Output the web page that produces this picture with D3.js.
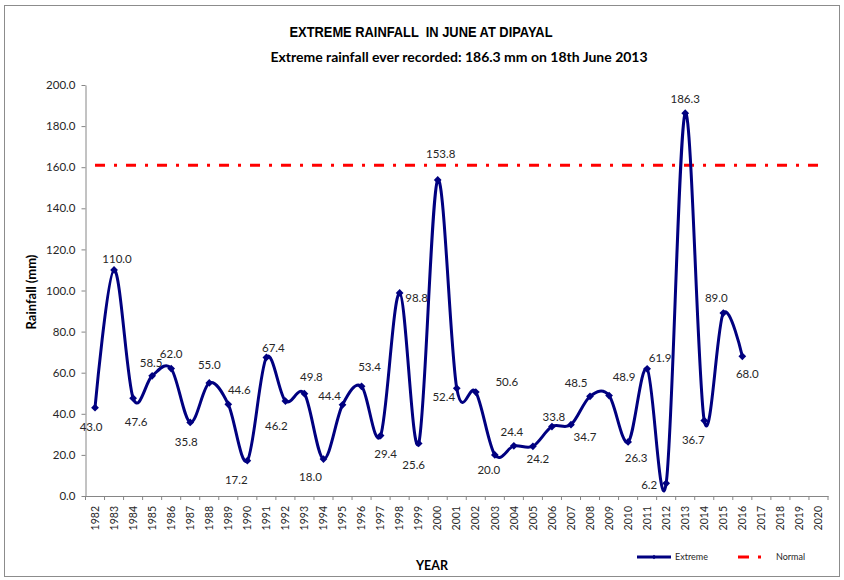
<!DOCTYPE html>
<html>
<head>
<meta charset="utf-8">
<script src="https://cdn.jsdelivr.net/npm/d3@7"></script>
<style>
  body { margin: 0; background: #fff; }
  text { font-family: Lato, "Open Sans", sans-serif; fill: #262626; }
</style>
</head>
<body>
<div id="chart"></div>
<script>
// Data
const years = d3.range(1982, 2021).map(String)
const extremeYears = d3.range(1982, 2017).map(String)
const extremeValues = [
  43.0, 110.0, 47.6, 58.5, 62.0, 35.8, 55.0, 44.6, 17.2, 67.4,
  46.2, 49.8, 18.0, 44.4, 53.4, 29.4, 98.8, 25.6, 153.8, 52.4,
  50.6, 20.0, 24.4, 24.2, 33.8, 34.7, 48.5, 48.9, 26.3, 61.9,
  6.2, 186.3, 36.7, 89.0, 68.0
]
const normalValue = 161
const yTicks = [0, 20, 40, 60, 80, 100, 120, 140, 160, 180, 200]

// label offsets (px) from each point
const labelDx = [-4, 3, 3, -1, 0, -4, 0, 11, -11, 7, -9, 7, -13, -13, 8, 5, 17, -5, 3, -13,
  31, -6, -2, 5, 2, 14, -14, 15, 8, 13, -17, 0, -11, -7, 5]
const labelDy = [19, -11, 24, -13, -15, 20, -18, -14, 19, -10, 25, -17, 18, -9, -19, 18, 5, 22, -26, 9,
  -10, 15, -14, 13, -10, 12, -13, -19, 16, -11, 2, -14, 19, -15, 18]

const extremeData = extremeYears.map((y, i) => ({ year: y, value: extremeValues[i], i }))
const normalData = years.map(y => ({ year: y, value: normalValue }))

// Dimensions
const dimensions = { width: 844, height: 580 }

const svg = d3.select('#chart')
  .append('svg')
  .attr('width', dimensions.width)
  .attr('height', dimensions.height)

// outer frame
svg.append('rect')
  .attr('x', 4.5).attr('y', 5.5)
  .attr('width', 835).attr('height', 571)
  .attr('fill', 'none')
  .attr('stroke', '#8c8c8c')
  .attr('stroke-width', 1)

// Scales
const xScale = d3.scaleBand()
  .domain(years)
  .range([85.5, 828])
const xCenter = d => xScale(d.year) + xScale.bandwidth() / 2

const yScale = d3.scaleLinear()
  .domain([0, 200])
  .range([496, 85])

// Titles
svg.append('text')
  .attr('x', 421).attr('y', 37)
  .attr('text-anchor', 'middle')
  .attr('textLength', 263)
  .attr('lengthAdjust', 'spacingAndGlyphs')
  .style('font-family', '"Liberation Sans", Arial, sans-serif')
  .style('font-weight', 'bold')
  .style('font-size', '15px')
  .style('white-space', 'pre')
  .style('fill', '#000')
  .text('EXTREME RAINFALL  IN JUNE AT DIPAYAL')

svg.append('text')
  .attr('x', 459).attr('y', 62)
  .attr('text-anchor', 'middle')
  .style('font-weight', 'bold')
  .style('font-size', '14px')
  .style('fill', '#000')
  .text('Extreme rainfall ever recorded: 186.3 mm on 18th June 2013')

// Y axis
const yAxis = d3.axisLeft(yScale)
  .tickValues(yTicks)
  .tickFormat(d3.format('.1f'))
  .tickSize(4)
  .tickSizeOuter(0)
  .tickPadding(6)

const yAxisGroup = svg.append('g')
  .attr('transform', 'translate(85.5,0)')
  .call(yAxis)
yAxisGroup.select('.domain').attr('stroke', '#868686')
yAxisGroup.selectAll('.tick line').attr('stroke', '#868686')
yAxisGroup.selectAll('.tick text')
  .style('font-size', '11.5px')
  .style('font-family', 'Lato, sans-serif')
  .attr('fill', '#262626')

svg.append('text')
  .attr('transform', 'translate(36,292) rotate(-90)')
  .attr('text-anchor', 'middle')
  .style('font-weight', 'bold')
  .style('font-size', '13px')
  .style('fill', '#000')
  .text('Rainfall (mm)')

// X axis
const xAxis = d3.axisBottom(xScale)
  .tickSize(0)
  .tickSizeOuter(0)

const xAxisGroup = svg.append('g')
  .attr('transform', 'translate(0,496)')
  .call(xAxis)
xAxisGroup.select('.domain').attr('stroke', '#868686')
xAxisGroup.selectAll('.tick text')
  .attr('transform', 'rotate(-90)')
  .attr('x', -10)
  .attr('y', 0)
  .attr('dy', '0.35em')
  .style('text-anchor', 'end')
  .style('font-size', '10.5px')
  .style('font-family', 'Lato, sans-serif')
  .attr('fill', '#262626')

// tick marks sit between categories
xAxisGroup.selectAll('.band-tick')
  .data(years.concat(['end']))
  .join('line')
  .attr('class', 'band-tick')
  .attr('x1', d => d === 'end' ? xScale.range()[1] : xScale(d))
  .attr('x2', d => d === 'end' ? xScale.range()[1] : xScale(d))
  .attr('y1', 0)
  .attr('y2', 4)
  .attr('stroke', '#868686')

svg.append('text')
  .attr('x', 432).attr('y', 570)
  .attr('text-anchor', 'middle')
  .style('font-weight', 'bold')
  .style('font-size', '12.5px')
  .style('fill', '#000')
  .text('YEAR')

// Normal line
const normalLine = d3.line()
  .x(xCenter)
  .y(d => yScale(d.value))

svg.append('path')
  .datum(normalData)
  .attr('d', normalLine)
  .attr('fill', 'none')
  .attr('stroke', '#ff0000')
  .attr('stroke-width', 3)
  .attr('stroke-dasharray', '10,9,3,9')

// Extreme line (smoothed)
const extremeLine = d3.line()
  .x(xCenter)
  .y(d => yScale(d.value))
  .curve(d3.curveCardinal.tension(0))

svg.append('path')
  .datum(extremeData)
  .attr('d', extremeLine)
  .attr('fill', 'none')
  .attr('stroke', '#000080')
  .attr('stroke-width', 3)

const marker = d3.symbol(d3.symbolSquare).size(30)

svg.append('g')
  .selectAll('path')
  .data(extremeData)
  .join('path')
  .attr('d', marker)
  .attr('transform', d => `translate(${xCenter(d)},${yScale(d.value)}) rotate(45)`)
  .attr('fill', '#000080')

// value labels
svg.append('g')
  .selectAll('text')
  .data(extremeData)
  .join('text')
  .attr('x', d => xCenter(d) + labelDx[d.i])
  .attr('y', d => yScale(d.value) + labelDy[d.i])
  .attr('dy', '0.35em')
  .attr('text-anchor', 'middle')
  .style('font-size', '11.5px')
  .text(d => d3.format('.1f')(d.value))

// Legend
const legend = svg.append('g')
legend.append('line')
  .attr('x1', 637).attr('x2', 671)
  .attr('y1', 557).attr('y2', 557)
  .attr('stroke', '#000080')
  .attr('stroke-width', 3)
legend.append('path')
  .attr('d', d3.symbol(d3.symbolSquare).size(10))
  .attr('transform', 'translate(654,557) rotate(45)')
  .attr('fill', '#000080')
legend.append('text')
  .attr('x', 675).attr('y', 557)
  .attr('dy', '0.35em')
  .style('font-size', '9px')
  .text('Extreme')

legend.append('line')
  .attr('x1', 738).attr('x2', 762)
  .attr('y1', 557).attr('y2', 557)
  .attr('stroke', '#ff0000')
  .attr('stroke-width', 3)
  .attr('stroke-dasharray', '11,9,3,9')
legend.append('text')
  .attr('x', 776).attr('y', 557)
  .attr('dy', '0.35em')
  .style('font-size', '9px')
  .text('Normal')
</script>
</body>
</html>
